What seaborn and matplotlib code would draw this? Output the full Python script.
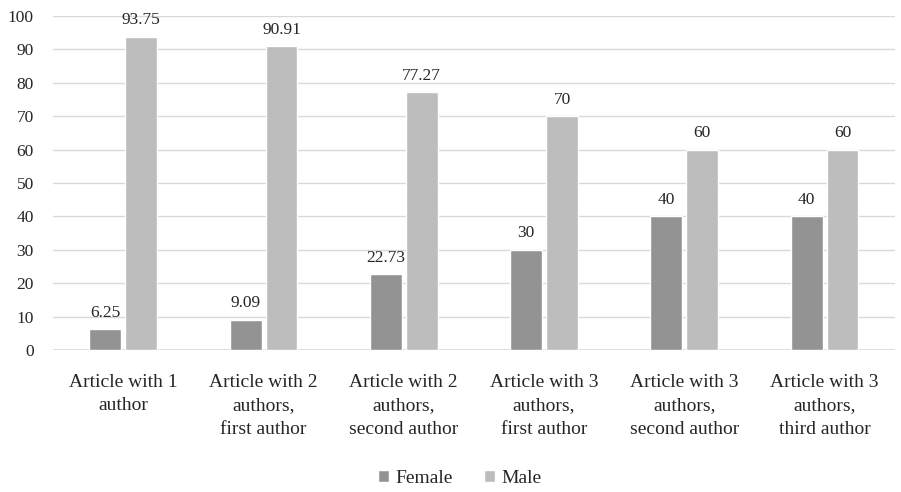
import matplotlib
matplotlib.use("Agg")
import matplotlib.pyplot as plt
import seaborn as sns
import pandas as pd

categories = [
    "Article with 1\nauthor",
    "Article with 2\nauthors,\nfirst author",
    "Article with 2\nauthors,\nsecond author",
    "Article with 3\nauthors,\nfirst author",
    "Article with 3\nauthors,\nsecond author",
    "Article with 3\nauthors,\nthird author",
]
female = [6.25, 9.09, 22.73, 30, 40, 40]
male = [93.75, 90.91, 77.27, 70, 60, 60]
series = ["Female", "Male"]
yticks = [0, 10, 20, 30, 40, 50, 60, 70, 80, 90, 100]

df = pd.DataFrame({
    "category": categories * 2,
    "gender": [series[0]] * len(categories) + [series[1]] * len(categories),
    "value": female + male,
})

sns.set_theme(style="white")
plt.rcParams["font.family"] = ["Liberation Serif", "DejaVu Serif"]

fig = plt.figure(figsize=(9.01, 4.92), dpi=100)
ax = fig.add_axes([0.059, 0.2886, 0.934, 0.679])

palette = {"Female": "#939393", "Male": "#bdbdbd"}
sns.barplot(data=df, x="category", y="value", hue="gender", order=categories,
            hue_order=series, palette=palette, width=0.512, gap=0.11,
            saturation=1, ax=ax, legend=True)

for cont in ax.containers:
    ax.bar_label(cont, labels=[f"{v:g}" for v in cont.datavalues],
                 padding=6, fontsize=12.5, color="#262626")

ax.set_ylim(0, 100)
ax.set_yticks(yticks)
ax.set_xlim(-0.5, len(categories) - 0.5)
ax.yaxis.grid(True, color="#d9d9d9", linewidth=1)
ax.set_axisbelow(True)
for s in ["top", "right", "left", "bottom"]:
    ax.spines[s].set_visible(False)
ax.axhline(0, color="#d9d9d9", linewidth=1.2, zorder=0)
ax.tick_params(axis="both", length=0)
ax.tick_params(axis="y", labelsize=12.5, labelcolor="#262626", pad=14)
ax.tick_params(axis="x", labelsize=14, labelcolor="#262626", pad=17)
for lbl in ax.get_xticklabels():
    lbl.set_linespacing(1.5)
ax.set_xlabel("")
ax.set_ylabel("")

handles, labels = ax.get_legend_handles_labels()
ax.legend_.remove()
fig.legend(handles, labels, loc="center", bbox_to_anchor=(0.51, 0.028),
           ncol=2, frameon=False, fontsize=14, handlelength=0.6,
           handleheight=0.6, handletextpad=0.3, columnspacing=1.6,
           labelcolor="#262626")

fig.savefig("out.png", dpi=100)
